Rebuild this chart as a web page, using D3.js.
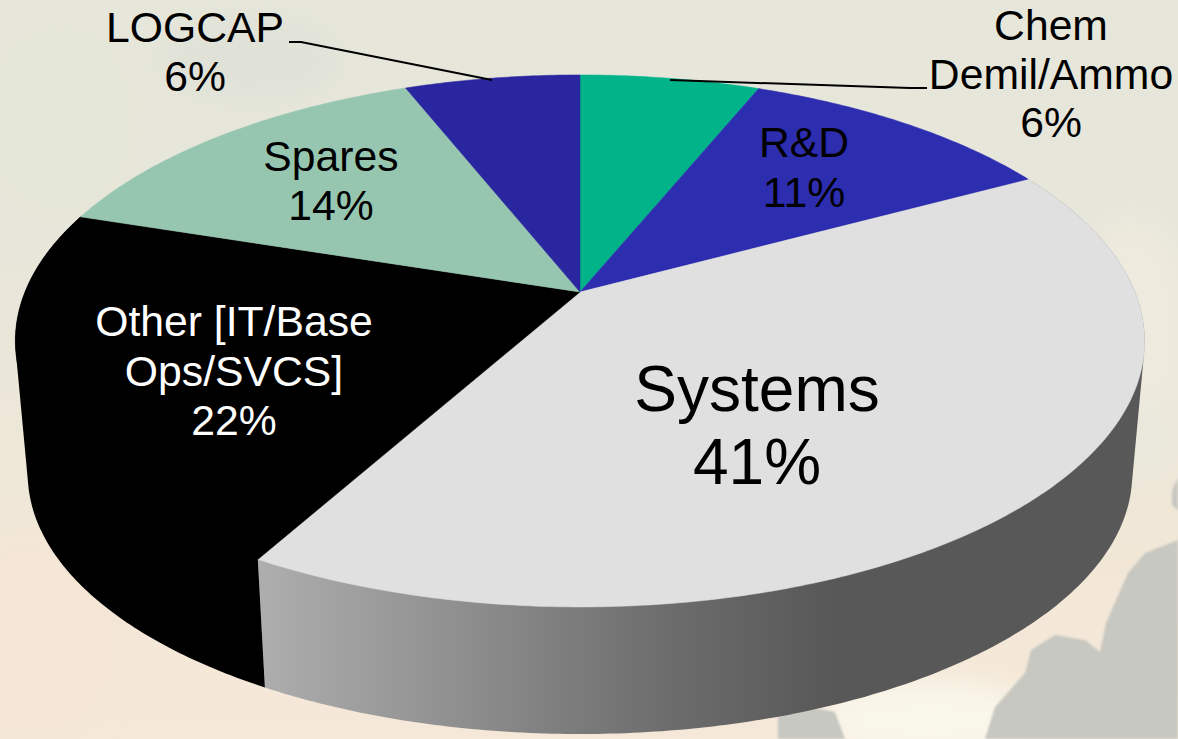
<!DOCTYPE html>
<html><head><meta charset="utf-8">
<script src="https://cdn.jsdelivr.net/npm/d3@7"></script>
<style>html,body{margin:0;padding:0;background:#e8e6da;overflow:hidden}svg{display:block}text{font-family:"Liberation Sans",Arial,sans-serif}</style>
</head><body><svg id="c" width="1178" height="739"></svg>
<script>
// ---- data ----
const categories = ["Chem Demil/Ammo","R&D","Systems","Other [IT/Base Ops/SVCS]","Spares","LOGCAP"];
const shares = [6.15,10.95,41,21.9,14,6];
const labelLines = [["Chem","Demil/Ammo","6%"],["R&D","11%"],["Systems","41%"],["Other [IT/Base","Ops/SVCS]","22%"],["Spares","14%"],["LOGCAP","6%"]];
const sliceColors = ["#00b388","#2d2db0","#e0e0e0","#000000","#97c6b0","#2a26a0"];
const sideColors = [null,null,"url(#sideGrad)","#000000",null,null];
const labelColors = ["#000","#000","#000","#fff","#000","#000"];
// ---- layout ----
const labelX = [1051,804,757,234,331,195];
const labelY = [40,157,411,336,171,42];
const labelSize = [42.7,42.7,64,42.7,42.7,42.7];
const labelLead = [48.5,50,73,49.5,49,49];
const leaders = [[[670,80],[910,88],[927,88]],[[289,42],[301,42],[492,80]]];

const W=1178,H=739, cx=580, cy=292, a=555, b=257, k=0.184, depth=134, shrink=0.978;
const svg=d3.select("#c");
const defs=svg.append("defs");
const bgG=defs.append("linearGradient").attr("id","bgGrad").attr("x1",0).attr("y1",0).attr("x2",0).attr("y2",1);
[[0,"#e6e6da"],[0.3,"#e7e6da"],[0.55,"#ece7d8"],[0.8,"#f3e7d7"],[1,"#f5e8d8"]].forEach(s=>bgG.append("stop").attr("offset",s[0]).attr("stop-color",s[1]));
defs.append("filter").attr("id","blur").attr("x","-30%").attr("y","-30%").attr("width","160%").attr("height","160%").append("feGaussianBlur").attr("stdDeviation",14);
defs.append("filter").attr("id","soft").append("feGaussianBlur").attr("stdDeviation",1);
const sg=defs.append("linearGradient").attr("id","sideGrad").attr("gradientUnits","userSpaceOnUse").attr("x1",258).attr("y1",0).attr("x2",830).attr("y2",0);
[[0,"#aeaeae"],[0.35,"#8f8f8f"],[0.7,"#6e6e6e"],[1,"#585858"]].forEach(s=>sg.append("stop").attr("offset",s[0]).attr("stop-color",s[1]));

// background wash (photo behind the chart)
svg.append("rect").attr("width",W).attr("height",H).attr("fill","url(#bgGrad)");
const washes=[[60,120,70,90,"#e4e7d6"],[250,60,90,40,"#e0e2d8"],[1130,330,60,110,"#eeeade"],[930,720,110,40,"#f9f7ea"],[1140,440,40,40,"#e9e8dc"],[30,640,90,100,"#f5e6d6"]];
svg.append("g").attr("filter","url(#blur)").selectAll("ellipse").data(washes).join("ellipse")
  .attr("cx",d=>d[0]).attr("cy",d=>d[1]).attr("rx",d=>d[2]).attr("ry",d=>d[3]).attr("fill",d=>d[4]);
const silhouettes=[[[1178,540],[1145,553],[1128,573],[1106,623],[1100,652],[1085,640],[1055,635],[1031,650],[1025,673],[995,707],[985,739],[1178,739]],
                   [[778,700],[835,712],[845,739],[778,739]],
                   [[1178,478],[1172,490],[1172,505],[1178,510]]];
svg.append("g").attr("filter","url(#soft)").selectAll("path").data(silhouettes).join("path")
  .attr("d",d=>d3.line()(d)+"Z").attr("fill","#c7c8c1");

// pie
const pie=d3.pie().sort(null).value(d=>d);
const arcs=pie(shares);
function project(t,level){
  const u=Math.sin(t), v=-Math.cos(t), den=1-k*v;
  const s=level?shrink:1;
  return [cx+s*a*u/den, cy+(level?depth:0)+s*b*v/den];
}
function ring(t0,t1,level){
  const n=Math.max(2,Math.ceil((t1-t0)*90));
  return d3.range(n+1).map(i=>project(t0+(t1-t0)*i/n,level));
}
const line=d3.line();
// sides: silhouette of each visible wall (the top face covers the inner part)
svg.append("g").selectAll("path").data(arcs.filter((d,i)=>sideColors[i])).join("path")
  .attr("d",d=>line(d3.polygonHull([...ring(d.startAngle,d.endAngle,0),...ring(d.startAngle,d.endAngle,1)]))+"Z")
  .attr("fill",d=>sideColors[d.index]);
// top face
svg.append("g").selectAll("path").data(arcs).join("path")
  .attr("d",d=>line([[cx,cy],...ring(d.startAngle,d.endAngle,0)])+"Z")
  .attr("fill",(d,i)=>sliceColors[i]).attr("stroke",(d,i)=>sliceColors[i]).attr("stroke-width",0.5);

// leader lines
svg.append("g").selectAll("path").data(leaders).join("path").attr("d",d=>line(d)).attr("fill","none").attr("stroke","#000").attr("stroke-width",2);

// labels
const lg=svg.append("g").selectAll("text").data(categories).join("text")
  .attr("text-anchor","middle").attr("fill",(d,i)=>labelColors[i]).attr("font-size",(d,i)=>labelSize[i])
  .attr("data-category",d=>d);
lg.each(function(d,i){
  d3.select(this).selectAll("tspan").data(labelLines[i]).join("tspan")
    .attr("x",labelX[i]).attr("y",(s,j)=>labelY[i]+j*labelLead[i]).text(s=>s);
});
</script></body></html>
